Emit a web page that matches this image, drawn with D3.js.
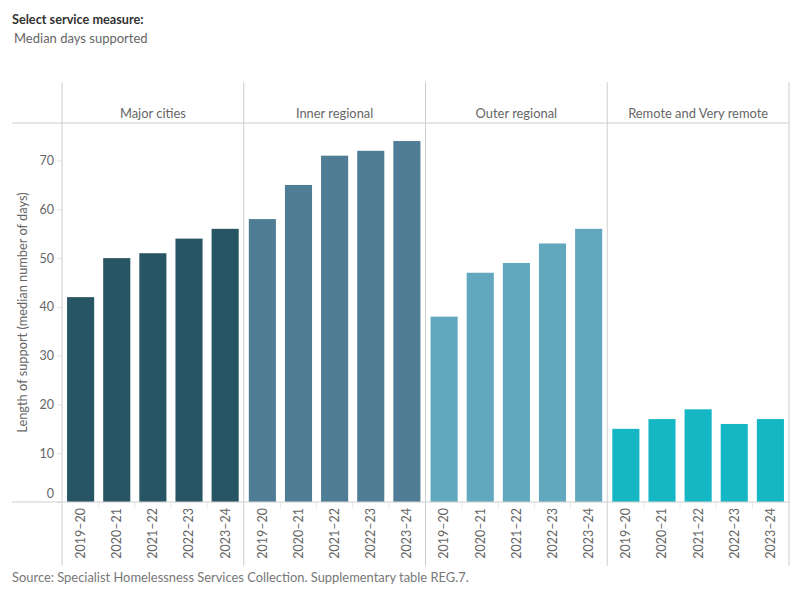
<!DOCTYPE html>
<html>
<head>
<meta charset="utf-8">
<script src="https://cdn.jsdelivr.net/npm/d3@7"></script>
<style>
    body { margin: 0; background: #fff; }
    text { font-family: Lato, "Noto Sans", sans-serif; }
</style>
</head>
<body>
<svg id="chart"></svg>
<script>
const regions = ['Major cities', 'Inner regional', 'Outer regional', 'Remote and Very remote'];
const years = ['2019–20', '2020–21', '2021–22', '2022–23', '2023–24'];
const majorCities = [42, 50, 51, 54, 56];
const innerRegional = [58, 65, 71, 72, 74];
const outerRegional = [38, 47, 49, 53, 56];
const remote = [15, 17, 19, 16, 17];
const yTicks = [0, 10, 20, 30, 40, 50, 60, 70];
const colors = ['#285564', '#4f7d96', '#61a8bf', '#15b7c5'];

const seriesValues = [majorCities, innerRegional, outerRegional, remote];
const data = [];
regions.forEach((r, i) => {
    years.forEach((yr, j) => data.push({region: r, year: yr, value: seriesValues[i][j]}));
});

const width = 800, height = 600;
const plotLeft = 62, plotRight = 789, plotTop = 123, plotBase = 502;

const svg = d3.select('#chart').attr('width', width).attr('height', height);

// header text
svg.append('text').attr('x', 12).attr('y', 24)
    .attr('font-size', 12.7).attr('font-weight', 'bold').attr('fill', '#333')
    .text('Select service measure:');
svg.append('text').attr('x', 14).attr('y', 43)
    .attr('font-size', 13).attr('fill', '#666')
    .text('Median days supported');

const xRegion = d3.scaleBand().domain(regions).range([plotLeft, plotRight]);
const xYear = d3.scaleBand().domain(years).range([0, xRegion.bandwidth()])
    .paddingInner(0.25).paddingOuter(0.14);
const y = d3.scaleLinear().domain([0, 77.7]).range([plotBase, plotTop]);

const gridColor = '#cfcfcf';

// panel separators
svg.selectAll('line.vsep').data([...regions.map(r => xRegion(r)), plotRight])
    .enter().append('line')
    .attr('x1', d => d).attr('x2', d => d)
    .attr('y1', 82).attr('y2', 566)
    .attr('stroke', gridColor);

svg.append('line').attr('x1', 12).attr('x2', plotRight).attr('y1', plotTop).attr('y2', plotTop)
    .attr('stroke', gridColor);

// panel headers
svg.selectAll('text.head').data(regions).enter().append('text')
    .attr('x', d => xRegion(d) + xRegion.bandwidth() / 2)
    .attr('y', 118)
    .attr('text-anchor', 'middle')
    .attr('font-size', 12.9).attr('fill', '#666')
    .text(d => d);

// bars
svg.append('g').selectAll('rect').data(data).enter().append('rect')
    .attr('x', d => xRegion(d.region) + xYear(d.year))
    .attr('y', d => y(d.value))
    .attr('width', xYear.bandwidth())
    .attr('height', d => plotBase - y(d.value))
    .attr('fill', d => colors[regions.indexOf(d.region)]);

// y axis
const yAxis = svg.append('g').attr('transform', `translate(${plotLeft},0)`)
    .call(d3.axisLeft(y).tickValues(yTicks).tickSize(5).tickPadding(3));
yAxis.select('.domain').remove();
yAxis.selectAll('.tick line').attr('stroke', '#e3e3e3');
yAxis.selectAll('.tick text')
    .attr('font-family', 'Lato, "Noto Sans", sans-serif')
    .attr('font-size', 12.5).attr('fill', '#666')
    .attr('dy', d => d === 0 ? '-0.35em' : '0.32em');

svg.append('text')
    .attr('transform', `translate(27,${(plotTop + plotBase) / 2}) rotate(-90)`)
    .attr('text-anchor', 'middle')
    .attr('font-size', 12.8).attr('fill', '#666')
    .text('Length of support (median number of days)');

// x axis per panel
regions.forEach(r => {
    const g = svg.append('g').attr('transform', `translate(${xRegion(r)},${plotBase})`);
    // light separators between year bands
    g.selectAll('line').data(years.slice(1)).enter().append('line')
        .attr('x1', d => xYear(d) - xYear.step() * xYear.paddingInner() / 2)
        .attr('x2', d => xYear(d) - xYear.step() * xYear.paddingInner() / 2)
        .attr('y1', 0).attr('y2', 7)
        .attr('stroke', '#ececec');
    g.selectAll('text').data(years).enter().append('text')
        .attr('transform', d => `translate(${xYear(d) + xYear.bandwidth() / 2},6) rotate(-90)`)
        .attr('text-anchor', 'end')
        .attr('dy', '0.35em')
        .attr('font-size', 12.5).attr('fill', '#666')
        .text(d => d);
});

svg.append('line').attr('x1', 12).attr('x2', plotRight).attr('y1', plotBase).attr('y2', plotBase)
    .attr('stroke', gridColor);

svg.append('text').attr('x', 12).attr('y', 582)
    .attr('font-size', 12.9).attr('fill', '#777')
    .text('Source: Specialist Homelessness Services Collection. Supplementary table REG.7.');
</script>
</body>
</html>
